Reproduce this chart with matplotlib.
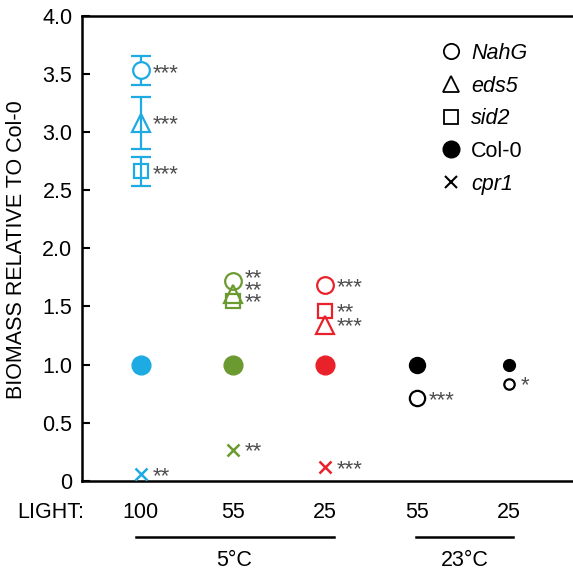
import matplotlib
matplotlib.use("Agg")
import matplotlib.pyplot as plt
import matplotlib.transforms as mtransforms
from matplotlib.lines import Line2D
from matplotlib.ticker import FuncFormatter

plt.rcParams['font.family'] = ['Liberation Sans', 'DejaVu Sans']

# conditions on x axis
light_labels = ["100", "55", "25", "55", "25"]
temp_groups = ["5°C", "23°C"]

blue = "#1eaae2"
green = "#6b9b30"
red = "#e9212b"
cond_colors = [blue, green, red, "black", "black"]

# mutant values per condition (None = not measured)
nahg = [3.53, 1.72, 1.68, 0.71, 0.83]
nahg_err = [0.125, 0, 0, 0, 0]
eds5 = [3.075, 1.61, 1.34, None, None]
eds5_err = [0.225, 0, 0, 0, 0]
sid2 = [2.66, 1.55, 1.46, None, None]
sid2_err = [0.125, 0, 0, 0, 0]
col0 = [1.0, 1.0, 1.0, 1.0, 1.0]
cpr1 = [0.06, 0.27, 0.12, None, None]

# significance labels and their vertical positions
nahg_sig = ["***", "**", "***", "***", "*"]
nahg_sig_y = [3.53, 1.745, 1.69, 0.72, 0.85]
eds5_sig = ["***", "**", "***", None, None]
eds5_sig_y = [3.09, 1.655, 1.36, None, None]
sid2_sig = ["***", "**", "**", None, None]
sid2_sig_y = [2.66, 1.565, 1.47, None, None]
cpr1_sig = ["**", "**", "***", None, None]
cpr1_sig_y = [0.07, 0.285, 0.13, None, None]

# marker sizes per condition (pt)
col0_ms = [13.5, 13.5, 13.5, 11.5, 8.5]
nahg_ms = [12, 12, 12, 11, 7.5]

fig = plt.figure(figsize=(5.73, 5.72), dpi=100)
ax = fig.add_axes([0.1431, 0.1591, 0.8569, 0.8138])

xs = [1, 2, 3, 4, 5]
ekw = dict(mew=1.6, capsize=7, elinewidth=1.6, capthick=1.6, zorder=4)

for i, x in enumerate(xs):
    c = cond_colors[i]
    ax.plot(x, col0[i], 'o', color=c, ms=col0_ms[i], zorder=3)
    if nahg[i] is not None:
        ax.errorbar(x, nahg[i], yerr=nahg_err[i] or None, fmt='o', mfc='white', mec=c,
                    ecolor=c, ms=nahg_ms[i], **ekw)
    if eds5[i] is not None:
        ax.errorbar(x, eds5[i], yerr=eds5_err[i] or None, fmt='^', mfc='none', mec=c,
                    ecolor=c, ms=13, **ekw)
    if sid2[i] is not None:
        ax.errorbar(x, sid2[i], yerr=sid2_err[i] or None, fmt='s', mfc='none', mec=c,
                    ecolor=c, ms=10.5, **ekw)
    if cpr1[i] is not None:
        ax.plot(x, cpr1[i], 'x', color=c, ms=8.5, mew=1.8, zorder=4)

ax.set_xlim(0.36, 5.70)
ax.set_ylim(0, 4.0)

# significance stars: close ones stacked into one multi-line text
star_fs = 16
px_per_unit = ax.get_window_extent().height / 4.0
em_px = star_fs * fig.dpi / 72
for i, x in enumerate(xs):
    items = []
    for sigs, ys in [(nahg_sig, nahg_sig_y), (eds5_sig, eds5_sig_y),
                     (sid2_sig, sid2_sig_y), (cpr1_sig, cpr1_sig_y)]:
        if sigs[i] is not None:
            items.append((ys[i], sigs[i]))
    items.sort(reverse=True)
    groups = []
    for y, s in items:
        if groups and groups[-1][-1][0] - y < 0.16:
            groups[-1].append((y, s))
        else:
            groups.append([(y, s)])
    for g in groups:
        txt = "\n".join(s for _, s in g)
        ls = 1.0
        if len(g) > 1:
            gap = (g[0][0] - g[-1][0]) / (len(g) - 1) * px_per_unit
            ls = gap / (1.06 * em_px)
        # baseline of a multi-line text sits on its last line
        ax.annotate(txt, (x, g[-1][0]), xytext=(8.5, -6.6), textcoords='offset points',
                    ha='left', va='baseline', fontsize=star_fs, color='#4d4d4d',
                    linespacing=ls)

ax.set_yticks([0, 0.5, 1.0, 1.5, 2.0, 2.5, 3.0, 3.5, 4.0])
ax.yaxis.set_major_formatter(FuncFormatter(lambda v, p: "0" if v == 0 else f"{v:.1f}"))
ax.set_xticks(xs)
ax.set_xticklabels(light_labels)
ax.tick_params(axis='x', length=0, pad=15, labelsize=15.5)
ax.tick_params(axis='y', direction='in', length=6, width=1.5, labelsize=15.5, pad=7)
for s in ['left', 'bottom', 'top']:
    ax.spines[s].set_linewidth(1.8)
ax.spines['right'].set_visible(False)
ax.set_ylabel("BIOMASS RELATIVE TO Col-0", fontsize=15.5)
ax.yaxis.set_label_coords(-0.113, 0.498)

trans = mtransforms.blended_transform_factory(ax.transData, ax.transAxes)
ax.text(-0.132, -0.067, "LIGHT:", transform=ax.transAxes, fontsize=15.5, ha='left', va='center')
ax.plot([0.95, 3.10], [-0.12, -0.12], color='black', lw=1.8, transform=trans, clip_on=False)
ax.plot([3.99, 5.05], [-0.12, -0.12], color='black', lw=1.8, transform=trans, clip_on=False)
ax.text(2.01, -0.171, temp_groups[0], transform=trans, fontsize=15.5, ha='center', va='center')
ax.text(4.52, -0.171, temp_groups[1], transform=trans, fontsize=15.5, ha='center', va='center')

handles = [
    Line2D([], [], marker='o', ls='none', mfc='white', mec='black', mew=1.3, ms=11),
    Line2D([], [], marker='^', ls='none', mfc='white', mec='black', mew=1.3, ms=12),
    Line2D([], [], marker='s', ls='none', mfc='white', mec='black', mew=1.3, ms=10),
    Line2D([], [], marker='o', ls='none', color='black', ms=12),
    Line2D([], [], marker='x', ls='none', color='black', mew=1.5, ms=8),
]
labels = ["NahG", "eds5", "sid2", "Col-0", "cpr1"]
leg = ax.legend(handles, labels, loc='upper left', bbox_to_anchor=(0.690, 0.9825), frameon=False,
                fontsize=15.5, handlelength=1.0, handletextpad=0.43, labelspacing=0.54)
for t, lab in zip(leg.get_texts(), labels):
    if lab != "Col-0":
        t.set_style('italic')

fig.savefig("out.png", dpi=100)
